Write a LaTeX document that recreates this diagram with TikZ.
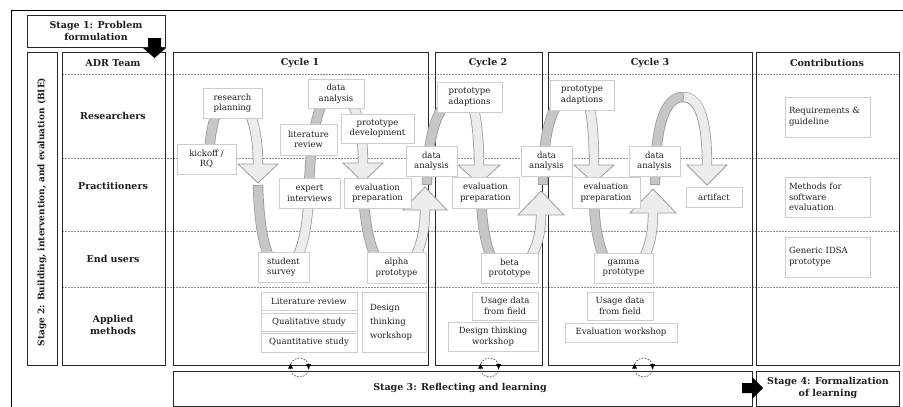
\documentclass[tikz,border=0pt]{standalone}
\usepackage{fontspec}
\setmainfont{DejaVu Serif}
\definecolor{dk}{HTML}{C6C6C6}
\definecolor{lt}{HTML}{ECECEC}
\definecolor{bedge}{HTML}{9C9C9C}
\definecolor{bxedge}{HTML}{CDCDCD}
\definecolor{txt}{HTML}{1E1E1E}
\newcommand\bandseg[2]{\draw[line width=10.4pt, draw=bedge] #2; \draw[line width=8.8pt, draw=#1, shorten <=0.8pt] #2;}
\newcommand\bhead[4]{\filldraw[fill=lt, draw=bedge, line width=0.8pt] ({#1-4.4},#2) -- ({#1-#4},#2) -- (#1,#3) -- ({#1+#4},#2) -- ({#1+4.4},#2);}
\begin{document}
\begin{tikzpicture}[x=1pt, y=-1pt,
  bx/.style={draw=bxedge, fill=white, line width=0.9pt, inner sep=1pt, align=center, text=txt, font=\fontsize{8.5}{10.5}\selectfont},
  big/.style={draw=black!85, line width=1.1pt, anchor=north west, inner sep=0pt},
  hd/.style={font=\bfseries\fontsize{9.5}{11.5}\selectfont, align=center, text=txt},
  rowline/.style={draw=black!45, line width=0.5pt, dash pattern=on 1.6pt off 1.4pt},
  loopc/.style={draw=black!75, line width=0.6pt, dash pattern=on 1.6pt off 1.4pt}]
\useasboundingbox (0,0) rectangle (903,407);
% outer frame
\draw[line width=0.8pt] (11,407) -- (11,10) -- (903,10);
% row separators
\foreach \yy in {74,158,231,287} \draw[rowline] (62,\yy) -- (899,\yy);
% big boxes
\node[big, minimum width=138pt, minimum height=32pt] (s1) at (27,15) {};
\node[big, minimum width=30pt, minimum height=313pt] (s2) at (27,52) {};
\node[big, minimum width=103pt, minimum height=313pt] (adr) at (62,52) {};
\node[big, minimum width=255pt, minimum height=313pt] (cy1) at (173,52) {};
\node[big, minimum width=107pt, minimum height=313pt] (cy2) at (435,52) {};
\node[big, minimum width=204pt, minimum height=313pt] (cy3) at (548,52) {};
\node[big, minimum width=143pt, minimum height=313pt] (con) at (756,52) {};
\node[big, minimum width=579pt, minimum height=35pt] (s3) at (173,371) {};
\node[big, minimum width=143pt, minimum height=35pt] (s4) at (756,371) {};
% headings
\node[hd] (s1t) at (96,31) {Stage 1: Problem\\formulation};
\node[hd, rotate=90, font=\bfseries\fontsize{9}{11}\selectfont] (s2t) at (42,212) {Stage 2: Building, intervention, and evaluation (BIE)};
\node[hd] (adrt) at (113,63) {ADR Team};
\node[hd] (c1t) at (300,63) {Cycle 1};
\node[hd] (c2t) at (488,63) {Cycle 2};
\node[hd] (c3t) at (650,63) {Cycle 3};
\node[hd] (cont) at (827,63) {Contributions};
\node[hd] (rres) at (113,116) {Researchers};
\node[hd] (rpra) at (113,186) {Practitioners};
\node[hd] (rend) at (113,259) {End users};
\node[hd] (rapp) at (113,325) {Applied\\methods};
\node[hd] (s3t) at (460,388) {Stage 3: Reflecting and learning};
\node[hd] (s4t) at (828,388) {Stage 4: Formalization\\of learning};
% ---- bands: dark parts
\bandseg{dk}{(209,165) .. controls (209,130) and (216,100) .. (232,96)}
\bandseg{dk}{(258,185) .. controls (259,225) and (265,268) .. (283,270)}
\bandseg{dk}{(309,190) .. controls (310,140) and (318,92) .. (336,89)}
\bandseg{dk}{(363,185) .. controls (364,225) and (372,272) .. (395,274)}
\bandseg{dk}{(427,185) .. controls (427,130) and (440,96) .. (465,91)}
\bandseg{dk}{(481,195) .. controls (482,235) and (490,272) .. (508,274)}
\bandseg{dk}{(543,185) .. controls (543,130) and (552,93) .. (580,89)}
\bandseg{dk}{(594,195) .. controls (594,235) and (603,272) .. (622,274)}
\bandseg{dk}{(655,185) .. controls (655,125) and (665,97) .. (683,97)}
% ---- bands: light parts
\bandseg{lt}{(232,96) .. controls (250,100) and (258,130) .. (258,164)}
\bandseg{lt}{(283,270) .. controls (300,268) and (308,230) .. (309,190)}
\bandseg{lt}{(336,89) .. controls (352,93) and (363,120) .. (363,163)}
\bandseg{lt}{(395,274) .. controls (412,272) and (425,245) .. (425,210)}
\bandseg{lt}{(465,91) .. controls (473,95) and (479,125) .. (479,165)}
\bandseg{lt}{(508,274) .. controls (525,272) and (541,250) .. (541,215)}
\bandseg{lt}{(580,89) .. controls (590,93) and (594,125) .. (594,165)}
\bandseg{lt}{(622,274) .. controls (640,272) and (653,250) .. (653,213)}
\bandseg{lt}{(683,97) .. controls (701,97) and (707,125) .. (707,165)}
% ---- arrow heads
\bhead{258}{164}{183}{20}
\bhead{363}{163}{182}{20}
\bhead{425}{210}{187}{22}
\bhead{479}{165}{184}{21}
\bhead{541}{215}{191}{23}
\bhead{594}{165}{183}{20}
\bhead{653}{213}{189}{23}
\bhead{707}{165}{185}{20}
% ---- cycle 1 nodes
\node[bx, minimum width=59pt, minimum height=30pt] (rp) at (232.5,103) {research\\planning};
\node[bx, minimum width=59pt, minimum height=30pt] (kick) at (206.5,159) {kickoff /\\RQ};
\node[bx, minimum width=56pt, minimum height=29pt] (da1) at (336,93.5) {data\\analysis};
\node[bx, minimum width=57pt, minimum height=31pt] (lr) at (308.5,139.5) {literature\\review};
\node[bx, minimum width=73pt, minimum height=29pt] (pd) at (377.5,128.5) {prototype\\development};
\node[bx, minimum width=61pt, minimum height=30pt] (ei) at (309.5,193) {expert\\interviews};
\node[bx, minimum width=67pt, minimum height=30pt] (ep1) at (377.5,193) {evaluation\\preparation};
\node[bx, minimum width=51pt, minimum height=30pt] (da2) at (431.5,161) {data\\analysis};
\node[bx, align=left, minimum width=51pt, minimum height=30pt] (ss) at (283.5,267) {student\\survey};
\node[bx, minimum width=59pt, minimum height=31pt] (ap) at (396.5,267.5) {alpha\\prototype};
\node[bx, minimum width=96pt, minimum height=18pt] (m1) at (309,301) {Literature review};
\node[bx, minimum width=96pt, minimum height=18pt] (m2) at (309,322) {Qualitative study};
\node[bx, minimum width=96pt, minimum height=19pt] (m3) at (309,342.5) {Quantitative study};
\node[bx, align=left, minimum width=64pt, minimum height=60pt, text width=48pt, font=\fontsize{8.5}{14}\selectfont] (m4) at (394,322) {Design\\thinking\\workshop};
% ---- cycle 2 nodes
\node[bx, minimum width=65pt, minimum height=30pt] (pa2) at (469.5,97) {prototype\\adaptions};
\node[bx, minimum width=67pt, minimum height=31pt] (ep2) at (485.5,192.5) {evaluation\\preparation};
\node[bx, minimum width=51pt, minimum height=30pt] (da3) at (546.5,161) {data\\analysis};
\node[bx, minimum width=57pt, minimum height=30pt] (bp) at (509.5,268) {beta\\prototype};
\node[bx, minimum width=66pt, minimum height=28pt] (u2) at (505,306) {Usage data\\from field};
\node[bx, minimum width=90pt, minimum height=29pt] (dt2) at (493,336.5) {Design thinking\\workshop};
% ---- cycle 3 nodes
\node[bx, minimum width=64pt, minimum height=30pt] (pa3) at (582,95) {prototype\\adaptions};
\node[bx, minimum width=68pt, minimum height=31pt] (ep3) at (606,192.5) {evaluation\\preparation};
\node[bx, minimum width=51pt, minimum height=30pt] (da4) at (654.5,161) {data\\analysis};
\node[bx, minimum width=56pt, minimum height=20pt] (art) at (714,197) {artifact};
\node[bx, minimum width=59pt, minimum height=30pt] (gp) at (623.5,268) {gamma\\prototype};
\node[bx, minimum width=66pt, minimum height=28pt] (u3) at (620,306) {Usage data\\from field};
\node[bx, minimum width=112pt, minimum height=19pt] (ew) at (621,332.5) {Evaluation workshop};
% ---- contributions
\node[bx, align=left, text width=77pt, minimum width=85pt, minimum height=40pt] (k1) at (827.5,117) {Requirements \&\\guideline};
\node[bx, align=left, text width=77pt, minimum width=85pt, minimum height=40pt] (k2) at (827.5,197) {Methods for\\software\\evaluation};
\node[bx, align=left, text width=77pt, minimum width=85pt, minimum height=40pt] (k3) at (827.5,257) {Generic IDSA\\prototype};
% ---- reflection circles
\foreach \cx in {299.5,489.5,643.5} {
  \draw[loopc] (\cx,367.5) circle (9.5pt);
  \fill[black] ({\cx-11.5},368.5) -- ({\cx-6.5},368.5) -- ({\cx-9},363.5) -- cycle;
  \fill[black] ({\cx+6.5},364) -- ({\cx+11.5},364) -- ({\cx+9},369) -- cycle;
}
% ---- black block arrows
\fill[black] (148,38) -- (161,38) -- (161,48) -- (166,48) -- (154.5,58) -- (143,48) -- (148,48) -- cycle;
\fill[black] (742,383) -- (752,383) -- (752,377) -- (763,388) -- (752,399) -- (752,393) -- (742,393) -- cycle;
\end{tikzpicture}
\end{document}
